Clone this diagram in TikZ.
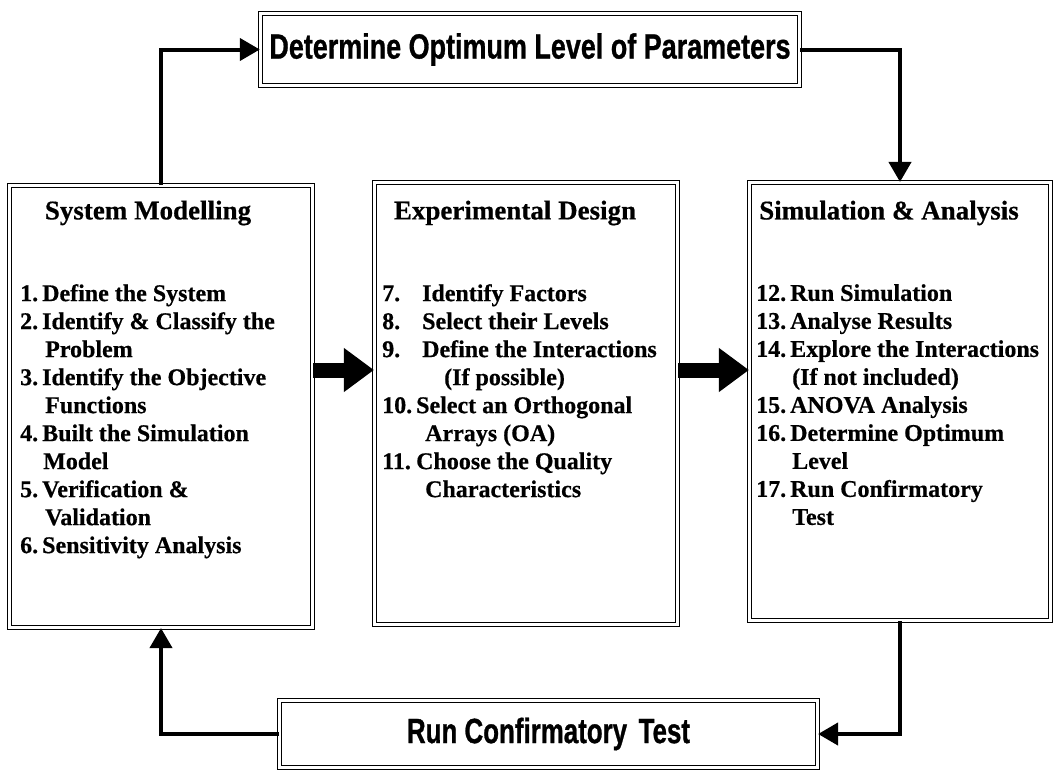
\documentclass[tikz,border=0pt]{standalone}
\usepackage{fontspec}
\usepackage{graphicx}
\setmainfont{Liberation Serif}[BoldFeatures={FakeBold=0.5}]
\newfontfamily\headfont{Liberation Sans}[BoldFeatures={FakeBold=1}]
\usetikzlibrary{arrows.meta}

\tikzset{
  x=1pt, y=-1pt,
  frame/.style={draw, line width=1.3pt, double=white, double distance=2.6pt,
                inner sep=0pt, fill=white},
  banner/.style={frame, font=\headfont\bfseries\fontsize{35}{40}\selectfont},
  heading/.style={inner sep=0pt, font=\bfseries\fontsize{27}{30}\selectfont},
  steps/.style={anchor=north west, inner sep=0pt, align=left,
                font=\bfseries\fontsize{24}{28}\selectfont},
  link/.style={line width=4pt, -{Triangle[length=20pt,width=22pt]}},
  bigarrow/.style={line width=15pt, -{Triangle[length=30pt,width=42pt]}}
}
\newcommand{\num}[2]{\makebox[#1][l]{#2}}

\begin{document}
\begin{tikzpicture}
\useasboundingbox (0,0) rectangle (1057,774);

% outer boxes
\node[banner, minimum width=539pt, minimum height=72pt] (optimum) at (530,49.5)
  {\scalebox{0.77}[1]{Determine Optimum Level of Parameters}};
\node[frame, minimum width=302.8pt, minimum height=441.8pt] (model) at (161,406.5) {};
\node[frame, minimum width=302.8pt, minimum height=441.8pt] (design) at (526,403.5) {};
\node[frame, minimum width=300.8pt, minimum height=437.8pt] (simul) at (900,401.5) {};
\node[banner, minimum width=537.8pt, minimum height=66.8pt] (confirm) at (548.5,734)
  {\scalebox{0.74}[1]{Run Confirmatory\,\ Test}};

% headings
\node[heading] (modelhead) at (148,213) {System Modelling};
\node[heading] (designhead) at (515,213) {Experimental Design};
\node[heading] (simulhead) at (889,213) {Simulation \& Analysis};

% step lists
\node[steps] (modelsteps) at (20,284) {%
  \num{22pt}{1.}Define the System\\
  \num{22pt}{2.}Identify \& Classify the\\
  \hspace*{25pt}Problem\\
  \num{22pt}{3.}Identify the Objective\\
  \hspace*{25pt}Functions\\
  \num{22pt}{4.}Built the Simulation\\
  \hspace*{23pt}Model\\
  \num{22pt}{5.}Verification \&\\
  \hspace*{25pt}Validation\\
  \num{22pt}{6.}Sensitivity Analysis};

\node[steps] (designsteps) at (382,284) {%
  \num{40pt}{7.}Identify Factors\\
  \num{40pt}{8.}Select their Levels\\
  \num{40pt}{9.}Define the Interactions\\
  \hspace*{62pt}(If possible)\\
  \num{34pt}{10.}Select an Orthogonal\\
  \hspace*{43pt}Arrays (OA)\\
  \num{34pt}{11.}Choose the Quality\\
  \hspace*{43pt}Characteristics};

\node[steps] (simulsteps) at (756,284) {%
  \num{34pt}{12.}Run Simulation\\
  \num{34pt}{13.}Analyse Results\\
  \num{34pt}{14.}Explore the Interactions\\
  \hspace*{36pt}(If not included)\\
  \num{34pt}{15.}ANOVA Analysis\\
  \num{34pt}{16.}Determine Optimum\\
  \hspace*{36pt}Level\\
  \num{34pt}{17.}Run Confirmatory\\
  \hspace*{36pt}Test};

% loop connectors
\draw[link] (model.north) |- (optimum.west);
\draw[link] (optimum.east) -| (simul.north);
\draw[link] (simul.south) |- (confirm.east);
\draw[link] (confirm.west) -| (model.south);

% main flow arrows
\coordinate (flowrow) at (0,370);
\draw[bigarrow] (model.east |- flowrow) -- (design.west |- flowrow);
\draw[bigarrow] (design.east |- flowrow) -- (simul.west |- flowrow);
\end{tikzpicture}
\end{document}
